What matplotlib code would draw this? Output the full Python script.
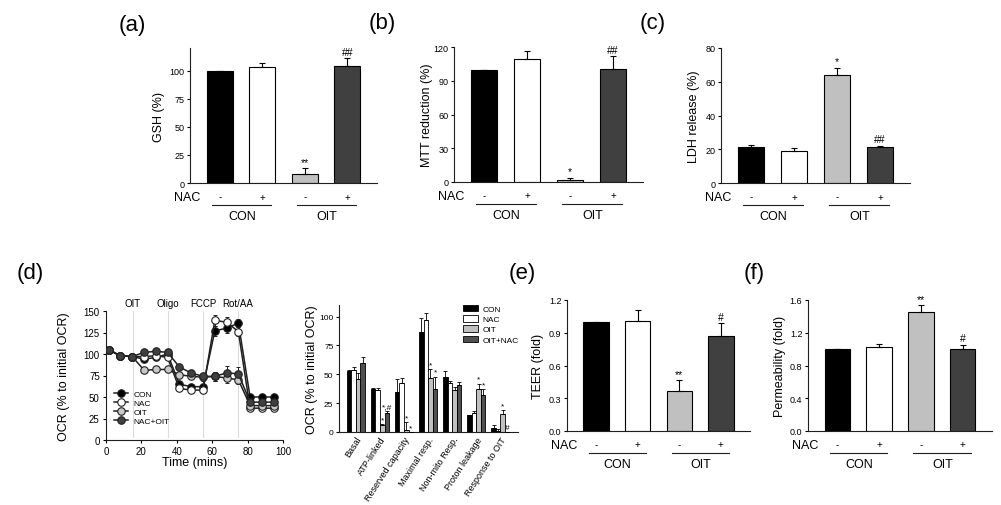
import numpy as np
import matplotlib
matplotlib.use('Agg')
import matplotlib.pyplot as plt
from matplotlib.transforms import blended_transform_factory

plt.rcParams['font.family'] = ['Liberation Sans', 'DejaVu Sans']

W, H = 1001, 506

# ---------------- data ----------------
groups = ['CON', 'OIT']
nac_signs = ['-', '+', '-', '+']

# (a) GSH
gsh_vals = [100, 102.7, 7.7, 103.8]
gsh_err = [0, 3.8, 5.6, 7.4]
gsh_sig = ['', '', '**', '##']
# (b) MTT
mtt_vals = [100, 109.6, 2.0, 100.4]
mtt_err = [0, 6.8, 1.8, 11.6]
mtt_sig = ['', '', '*', '##']
# (c) LDH
ldh_vals = [21.5, 19.2, 63.8, 21.1]
ldh_err = [1.0, 1.6, 4.4, 1.0]
ldh_sig = ['', '', '*', '##']
# (e) TEER
teer_vals = [1.0, 1.008, 0.366, 0.87]
teer_err = [0, 0.10, 0.098, 0.12]
teer_sig = ['', '', '**', '#']
# (f) Permeability
perm_vals = [1.0, 1.026, 1.454, 1.0]
perm_err = [0, 0.04, 0.085, 0.053]
perm_sig = ['', '', '**', '#']

# (d) OCR time course
times = [1.5, 8, 14.8, 21.6, 28.2, 34.8, 41.4, 48, 54.8, 61.5, 68.2, 74.8, 81.4, 88.2, 94.9]
ocr_t_con = [105, 98, 97, 94, 96, 100, 65, 62, 62, 127, 130, 136, 50, 50, 50]
ocr_t_con_err = [2, 2, 2, 3, 3, 3, 3, 3, 3, 6, 5, 5, 3, 3, 3]
ocr_t_nac = [105, 98, 97, 97, 98, 96, 60, 58, 58, 139, 137, 126, 37, 37, 37]
ocr_t_nac_err = [2, 2, 2, 3, 3, 3, 3, 3, 3, 6, 6, 5, 3, 3, 3]
ocr_t_oit = [105, 98, 97, 81, 82, 82, 76, 74, 73, 74, 72, 70, 40, 40, 40]
ocr_t_oit_err = [2, 2, 2, 3, 3, 3, 3, 3, 4, 5, 6, 5, 3, 3, 3]
ocr_t_nacoit = [105, 98, 97, 102, 103, 102, 85, 78, 74, 74, 78, 77, 44, 44, 44]
ocr_t_nacoit_err = [2, 2, 2, 3, 3, 3, 3, 3, 4, 5, 8, 8, 3, 3, 3]
inject_times = [15, 35, 55, 74.5]
inject_labels = ['OIT', 'Oligo', 'FCCP', 'Rot/AA']

# (d) OCR parameters
ocr_cats = ['Basal', 'ATP-linked', 'Reserved capacity', 'Maximal resp.',
            'Non-mito Resp.', 'Proton leakage', 'Response to OIT']
ocr_series = ['CON', 'NAC', 'OIT', 'OIT+NAC']
ocr_con = [52.9, 36.9, 34.9, 87.0, 48.0, 14.3, 3.4]
ocr_con_err = [0.5, 1.0, 10.8, 11.4, 4.9, 0.5, 3.0]
ocr_nac = [53.7, 36.3, 42.3, 96.6, 42.3, 16.3, 1.1]
ocr_nac_err = [2.6, 2.0, 4.6, 6.3, 2.0, 1.7, 1.2]
ocr_oit = [45.7, 5.7, 1.4, 47.0, 36.6, 37.0, 15.7]
ocr_oit_err = [5.0, 1.0, 7.0, 7.7, 2.0, 5.0, 3.0]
ocr_oitnac = [60.0, 16.6, 0.0, 37.0, 40.6, 32.0, 0.0]
ocr_oitnac_err = [5.0, 1.5, 0.0, 11.0, 2.3, 5.0, 0.0]
ocr_con_sig = ['', '', '', '', '', '', '']
ocr_nac_sig = ['', '', '', '', '', '', '']
ocr_oit_sig = ['', '*', '*', '*', '', '*', '*']
ocr_oitnac_sig = ['', '*,#', '*', '*', '', '*', '#']

# ---------------- styling ----------------
bar_colors = ['#000000', '#ffffff', '#c0c0c0', '#404040']

fig = plt.figure(figsize=(W / 100, H / 100), dpi=100)


def add_ax(l, t, r, b):
    return fig.add_axes([l / W, 1 - b / H, (r - l) / W, (b - t) / H])


def style_axes(ax):
    for s in ['top', 'right']:
        ax.spines[s].set_visible(False)
    for s in ['left', 'bottom']:
        ax.spines[s].set_linewidth(0.8)
        ax.spines[s].set_color('#202020')


def place_ylabel(ax, text, off_px, fs=9):
    ax.set_ylabel(text, fontsize=fs)
    wpx = ax.get_position().width * W
    ax.yaxis.set_label_coords(-(off_px - 7) / wpx, 0.5)


def bar_panel(ax, vals, errs, sig, ylim, yticks, fmt, ylabel, lab_off):
    x = np.arange(4)
    ax.bar(x, vals, width=0.61, color=bar_colors, edgecolor='black', linewidth=0.8, zorder=2)
    ax.errorbar(x, vals, yerr=[np.zeros(4), errs], fmt='none', ecolor='black',
                elinewidth=0.8, capsize=2, capthick=0.8, zorder=3)
    for xi, v, e, s in zip(x, vals, errs, sig):
        if s:
            ax.annotate(s, (xi, v + e), xytext=(0, 1), textcoords='offset points',
                        ha='center', va='bottom', fontsize=7.5)
    ax.set_xlim(-0.7, 3.7)
    ax.set_ylim(*ylim)
    ax.set_yticks(yticks)
    ax.set_yticklabels([fmt.format(t) for t in yticks])
    ax.set_xticks([])
    style_axes(ax)
    ax.tick_params(axis='y', direction='out', length=2.5, width=0.8, labelsize=6.5, pad=1.5)
    place_ylabel(ax, ylabel, lab_off)
    tr = blended_transform_factory(ax.transData, ax.transAxes)
    hpx = ax.get_position().height * H

    def fy(px):
        return -px / hpx
    ax.text(-0.015, fy(14), 'NAC', transform=ax.transAxes, ha='center', va='center', fontsize=9)
    for xi, s in zip(x, nac_signs):
        ax.text(xi, fy(13.5), s, transform=tr, ha='center', va='center', fontsize=7)
    for gi, g in enumerate(groups):
        c0 = 2 * gi
        ax.plot([c0 - 0.18, c0 + 1.2], [fy(22), fy(22)], transform=tr, color='#202020',
                lw=0.8, clip_on=False)
        ax.text(c0 + 0.52, fy(33), g, transform=tr, ha='center', va='center', fontsize=9)


# (a)
ax_a = add_ax(190, 49, 377, 184)
bar_panel(ax_a, gsh_vals, gsh_err, gsh_sig, (0, 120), [0, 25, 50, 75, 100], '{:.0f}', 'GSH (%)', 32)
# (b)
ax_b = add_ax(454, 48, 643, 183)
bar_panel(ax_b, mtt_vals, mtt_err, mtt_sig, (0, 120), [0, 30, 60, 90, 120], '{:.0f}',
          'MTT reduction (%)', 28)
# (c)
ax_c = add_ax(721, 49, 910, 184)
bar_panel(ax_c, ldh_vals, ldh_err, ldh_sig, (0, 80), [0, 20, 40, 60, 80], '{:.0f}',
          'LDH release (%)', 28)
# (e)
ax_e = add_ax(567, 301, 750, 432)
bar_panel(ax_e, teer_vals, teer_err, teer_sig, (0, 1.2), [0, 0.3, 0.6, 0.9, 1.2], '{:.1f}',
          'TEER (fold)', 30)
# (f)
ax_f = add_ax(808, 301, 992, 432)
bar_panel(ax_f, perm_vals, perm_err, perm_sig, (0, 1.6), [0, 0.4, 0.8, 1.2, 1.6], '{:.1f}',
          'Permeability (fold)', 29)

# (d) time course
ax_d1 = add_ax(106, 312, 283, 441)
for tx, lab in zip(inject_times, inject_labels):
    ax_d1.axvline(tx, ymin=0.02, ymax=1.0, color='#dcdcdc', lw=0.8, zorder=0)
    ax_d1.text(tx, 153, lab, ha='center', va='bottom', fontsize=7)
series_line = [
    ('CON', ocr_t_con, ocr_t_con_err, '#000000'),
    ('NAC', ocr_t_nac, ocr_t_nac_err, '#ffffff'),
    ('OIT', ocr_t_oit, ocr_t_oit_err, '#c8c8c8'),
    ('NAC+OIT', ocr_t_nacoit, ocr_t_nacoit_err, '#404040'),
]
for name, ys, es, col in series_line:
    ax_d1.errorbar(times, ys, yerr=es, fmt='none', ecolor='#202020', elinewidth=0.7,
                   capsize=1.5, capthick=0.7, zorder=2)
    ax_d1.plot(times, ys, '-o', color='#202020', lw=1.1, markersize=5.4,
               markerfacecolor=col, markeredgecolor='#202020', markeredgewidth=0.8,
               label=name, zorder=3)
ax_d1.set_xlim(0, 100)
ax_d1.set_ylim(0, 150)
ax_d1.set_xticks([0, 20, 40, 60, 80, 100])
ax_d1.set_yticks([0, 25, 50, 75, 100, 125, 150])
style_axes(ax_d1)
ax_d1.tick_params(direction='out', length=2.5, width=0.8, labelsize=7, pad=2)
ax_d1.set_xlabel('Time (mins)', fontsize=9, labelpad=0)
place_ylabel(ax_d1, 'OCR (% to initial OCR)', 43)
ax_d1.legend(loc='upper left', bbox_to_anchor=(0.045, 0.39), frameon=False, fontsize=6,
             handlelength=1.7, handletextpad=0.6, labelspacing=0.15, borderpad=0,
             borderaxespad=0, numpoints=1)

# (d) parameters bar chart
ax_d2 = add_ax(339, 306, 518, 433)
xg = np.arange(len(ocr_cats))
bw = 0.19
ocr_data = [
    (ocr_con, ocr_con_err, ocr_con_sig, '#000000'),
    (ocr_nac, ocr_nac_err, ocr_nac_sig, '#ffffff'),
    (ocr_oit, ocr_oit_err, ocr_oit_sig, '#c0c0c0'),
    (ocr_oitnac, ocr_oitnac_err, ocr_oitnac_sig, '#505050'),
]
for i, (name, (vals, errs, sig, col)) in enumerate(zip(ocr_series, ocr_data)):
    xs = xg + (i - 1.5) * bw
    ax_d2.bar(xs, vals, width=bw, color=col, edgecolor='black', linewidth=0.6,
              label=name, zorder=2)
    ax_d2.errorbar(xs, vals, yerr=[np.zeros(len(vals)), errs], fmt='none', ecolor='black',
                   elinewidth=0.6, capsize=1.3, capthick=0.6, zorder=3)
    for xi, v, e, s in zip(xs, vals, errs, sig):
        if s:
            ax_d2.annotate(s, (xi, v + e), xytext=(0, 0.5), textcoords='offset points',
                           ha='center', va='bottom', fontsize=6)
ax_d2.set_xlim(-0.7, 6.73)
ax_d2.set_ylim(0, 110)
ax_d2.set_yticks([0, 25, 50, 75, 100])
ax_d2.set_xticks(xg)
ax_d2.set_xticklabels(ocr_cats, rotation=57, ha='right', rotation_mode='anchor', fontsize=6.5)
style_axes(ax_d2)
ax_d2.tick_params(axis='y', direction='out', length=2.5, width=0.8, labelsize=6, pad=1.5)
ax_d2.tick_params(axis='x', length=0, pad=2)
place_ylabel(ax_d2, 'OCR (% to initial OCR)', 28)
ax_d2.legend(loc='upper left', bbox_to_anchor=(0.69, 1.0), frameon=False, fontsize=6,
             handlelength=1.9, handleheight=0.8, handletextpad=0.5, labelspacing=0.25,
             borderpad=0, borderaxespad=0)

# panel labels
for lab, px, py in [('(a)', 132, 26), ('(b)', 382, 24), ('(c)', 653, 24),
                    ('(d)', 30, 273), ('(e)', 522, 273), ('(f)', 754, 273)]:
    fig.text(px / W, 1 - py / H, lab, ha='center', va='center', fontsize=16)

fig.savefig('out.png', dpi=100)
